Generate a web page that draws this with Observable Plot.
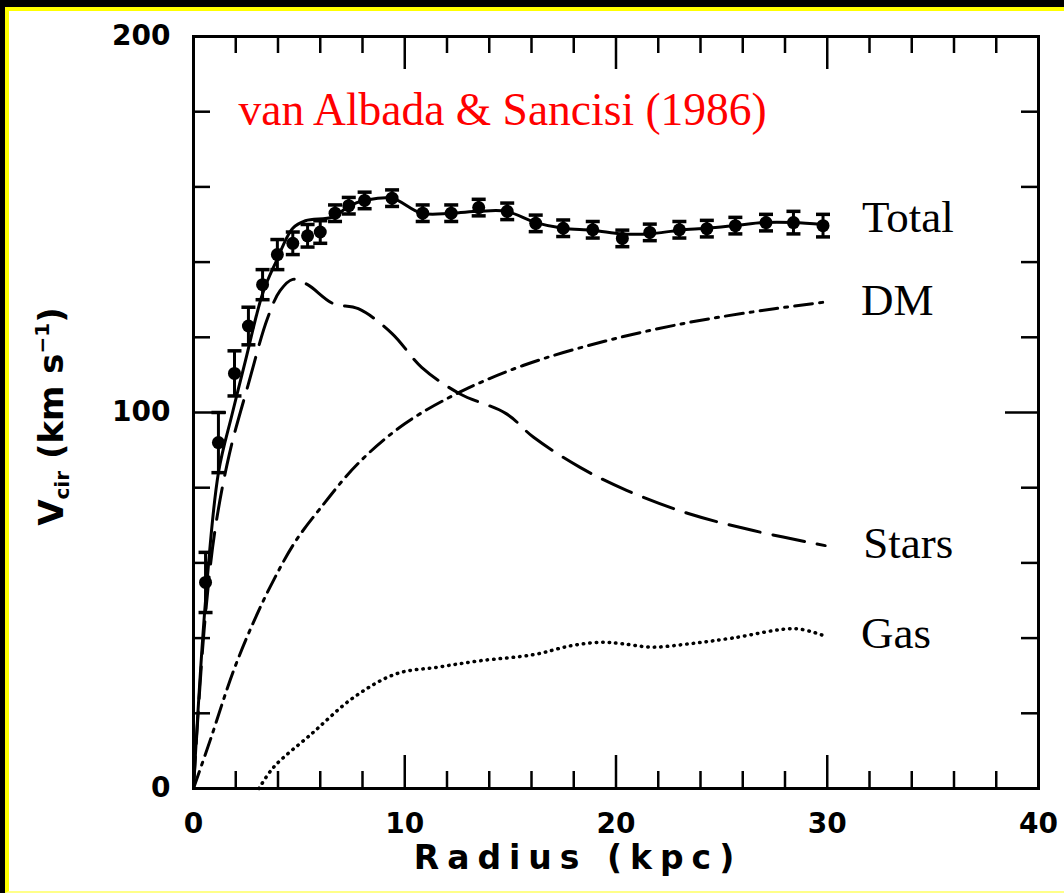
<!DOCTYPE html>
<html>
<head>
<meta charset="utf-8">
<script src="https://cdn.jsdelivr.net/npm/d3@7"></script>
<script src="https://cdn.jsdelivr.net/npm/@observablehq/plot@0.6"></script>
<style>
  html, body { margin: 0; padding: 0; background: #000; width: 1064px; height: 893px; overflow: hidden; }
  #frame { position: absolute; left: 5px; top: 7px; width: 1070px; height: 880px;
           background: #fff; border-left: 4px solid #ffff00; border-top: 4px solid #ffff00;
           border-bottom: 2px solid #ffff88; }
  #chart { position: absolute; left: 0; top: 0; }
</style>
</head>
<body>
<div id="frame"></div>
<div id="chart"></div>
<script>
// ---- observed rotation curve (points with error bars) ----
const obsR   = [0.57, 1.18, 1.94, 2.6, 3.27, 3.97, 4.7, 5.4, 6.0, 6.7, 7.35, 8.1, 9.4, 10.85, 12.2, 13.5, 14.85, 16.2, 17.5, 18.9, 20.3, 21.6, 23.0, 24.3, 25.65, 27.1, 28.4, 29.8];
const obsV   = [54.8, 92, 110.4, 123, 134, 142, 145, 147, 148, 153, 155, 156.4, 157, 153, 153, 154.5, 153.5, 150.3, 149, 148.6, 146.3, 147.9, 148.6, 148.9, 149.7, 150.5, 150.5, 149.7];
const obsErr = [8, 8, 6, 5, 4, 4, 3, 3, 3, 2.2, 2.2, 2.2, 2.2, 2.2, 2.2, 2.2, 2.2, 2.2, 2.2, 2.2, 2.2, 2.2, 2.2, 2.2, 2.2, 2.2, 3, 3];

// ---- model components ----
const totalR = [0, 0.57, 1.18, 1.83, 2.46, 3.27, 3.9, 4.7, 5.3, 6.6, 7.4, 8.2, 9.4, 10.8, 12.2, 13.5, 14.8, 16.2, 17.5, 18.9, 20.3, 21.6, 23, 24.3, 25.6, 27, 28.4, 29.8];
const totalV = [0, 50, 84, 99.6, 113.8, 131.6, 140, 149, 151, 152, 155, 156.5, 157, 153, 153, 153.5, 153.5, 150.5, 149, 148.5, 147.5, 147.5, 148.5, 149, 149.7, 150.5, 150.5, 150];

const starsR = [0, 0.5, 1.0, 1.7, 2.6, 3.5, 4.1, 4.7, 5.4, 6.6, 7.8, 9.4, 10.8, 12.6, 14.8, 16.1, 18.3, 20.5, 23.5, 26.5, 29.9];
const starsV = [0, 42, 68, 89, 107.6, 125, 132.4, 135.4, 134, 129, 127.6, 121, 112, 105, 99.7, 93.4, 85.4, 79.3, 73, 68.6, 64.6];

const dmR = [0, 0.8, 1.9, 2.9, 3.8, 4.8, 6.0, 7.8, 10.0, 12.6, 15.6, 19.5, 23.5, 27.5, 29.8];
const dmV = [0, 13, 31.4, 45, 55.5, 65.5, 74.5, 86.5, 97, 105.4, 112.5, 119, 124, 127.6, 129.3];

const gasR = [3.1, 3.8, 5.6, 7.6, 9.6, 11.6, 13.6, 16.1, 17.9, 19.3, 20.3, 21.7, 23.5, 25.5, 28.5, 29.8];
const gasV = [0, 5.7, 14.6, 24.3, 30.5, 32.3, 34, 35.6, 38, 38.9, 38.5, 37.6, 38.5, 40, 42.5, 40.7];

// ---- labels & ticks ----
const seriesNames = ["Total", "DM", "Stars", "Gas"];
const titleText = "van Albada & Sancisi (1986)";
const xTitle = "Radius (kpc)";
const yTitle = "Vcir (km s-1)";
const xTickLabels = [0, 10, 20, 30, 40];
const yTickLabels = [0, 100, 200];
const xMinor = [2, 4, 6, 8, 12, 14, 16, 18, 22, 24, 26, 28, 32, 34, 36, 38];
const xMajor = [10, 20, 30];
const yMinor = [20, 40, 60, 80, 120, 140, 160, 180];
const yMajor = [100];

// ---- tables built from arrays ----
const obs = obsR.map((r, i) => ({r, v: obsV[i], e: obsErr[i]}));
const toRows = (R, V) => R.map((r, i) => ({r, v: V[i]}));
const total = toRows(totalR, totalV);
const stars = toRows(starsR, starsV);
const dm = toRows(dmR, dmV);
const gas = toRows(gasR, gasV);
const ends = [total, dm, stars, gas].map((s, i) => ({name: seriesNames[i], r: s[s.length - 1].r, v: s[s.length - 1].v}));

const W = 1064, H = 893, mL = 193, mR = 26, mT = 36, mB = 105;
const pw = W - mL - mR, ph = H - mT - mB;
const minorLen = 17, majorLen = 33;

const capSymbol = {
  draw(ctx, size) {
    const w = Math.sqrt(size / Math.PI);
    ctx.moveTo(-w, 0); ctx.lineTo(w, 0);
  }
};

const sans = "DejaVu Sans, Liberation Sans, sans-serif";
const serif = "Liberation Serif, Times New Roman, serif";
const labelStyle = {textAnchor: "start", lineAnchor: "middle", fontFamily: serif, fontSize: 45, fontWeight: "normal", fill: "black"};

const chart = Plot.plot({
  width: W, height: H,
  marginLeft: mL, marginRight: mR, marginTop: mT, marginBottom: mB,
  x: {domain: [0, 40], axis: null},
  y: {domain: [0, 200], axis: null},
  style: {background: "transparent", color: "black", fontFamily: sans, fontSize: "28px", fontWeight: "bold", overflow: "visible"},
  marks: [
    // inward ticks on all four sides
    Plot.tickX(xMinor, {x: d => d, insetTop: ph - minorLen, strokeWidth: 2.5}),
    Plot.tickX(xMajor, {x: d => d, insetTop: ph - majorLen, strokeWidth: 2.5}),
    Plot.tickX(xMinor, {x: d => d, insetBottom: ph - minorLen, strokeWidth: 2.5}),
    Plot.tickX(xMajor, {x: d => d, insetBottom: ph - majorLen, strokeWidth: 2.5}),
    Plot.tickY(yMinor, {y: d => d, insetRight: pw - minorLen, strokeWidth: 2.5}),
    Plot.tickY(yMajor, {y: d => d, insetRight: pw - majorLen, strokeWidth: 2.5}),
    Plot.tickY(yMinor, {y: d => d, insetLeft: pw - minorLen, strokeWidth: 2.5}),
    Plot.tickY(yMajor, {y: d => d, insetLeft: pw - majorLen, strokeWidth: 2.5}),
    Plot.frame({stroke: "black", strokeWidth: 3}),
    Plot.axisX({ticks: xTickLabels, tickSize: 0, tickPadding: 25, tickFormat: d => String(d), label: null,
                fontSize: 28, fontWeight: "bold", fontFamily: sans}),
    Plot.axisY({ticks: yTickLabels, tickSize: 0, tickPadding: 23, tickFormat: d => String(d), label: null,
                fontSize: 28, fontWeight: "bold", fontFamily: sans}),
    // model curves
    Plot.line(gas, {x: "r", y: "v", curve: "catmull-rom", stroke: "black", strokeWidth: 3.5,
                    strokeDasharray: "0.5,6", strokeLinecap: "round"}),
    Plot.line(dm, {x: "r", y: "v", curve: "catmull-rom", stroke: "black", strokeWidth: 3,
                   strokeDasharray: "18,7,3,7"}),
    Plot.line(stars, {x: "r", y: "v", curve: "catmull-rom", stroke: "black", strokeWidth: 3,
                      strokeDasharray: "32,13"}),
    Plot.line(total, {x: "r", y: "v", curve: "catmull-rom", stroke: "black", strokeWidth: 3}),
    // observed points with error bars
    Plot.ruleX(obs, {x: "r", y1: d => d.v - d.e, y2: d => d.v + d.e, stroke: "black", strokeWidth: 3}),
    Plot.dot(obs, {x: "r", y: d => d.v + d.e, symbol: capSymbol, r: 7, fill: "none", stroke: "black", strokeWidth: 3.5}),
    Plot.dot(obs, {x: "r", y: d => d.v - d.e, symbol: capSymbol, r: 7, fill: "none", stroke: "black", strokeWidth: 3.5}),
    Plot.dot(obs, {x: "r", y: "v", r: 6.5, fill: "black", stroke: "none"}),
    // series labels at curve ends
    Plot.text(ends.slice(0, 1), {x: "r", y: "v", text: "name", dx: 39, dy: -7, ...labelStyle}),
    Plot.text(ends.slice(1), {x: "r", y: "v", text: "name", dx: 38, dy: -2, ...labelStyle}),
    // title
    Plot.text([titleText], {frameAnchor: "top-left", dx: 45, dy: 74, textAnchor: "start", lineAnchor: "middle",
                            fontFamily: serif, fontSize: 45.5, fontWeight: "normal", fill: "#ff0000"}),
    // axis titles
    Plot.text([xTitle], {frameAnchor: "bottom", dx: -38, dy: 70, lineAnchor: "middle", textAnchor: "middle",
                         fontFamily: sans, fontSize: 33, fontWeight: "bold", fill: "black"}),
    Plot.text([yTitle], {frameAnchor: "left", dx: -141, dy: 4, rotate: -90, lineAnchor: "middle", textAnchor: "middle",
                         fontFamily: sans, fontSize: 34, fontWeight: "bold", fill: "black"})
  ]
});

document.getElementById("chart").appendChild(chart);

// letter spacing for x title and rich text (subscript/superscript) for y title
d3.select(chart).selectAll("text").each(function () {
  const t = d3.select(this);
  if (this.textContent === xTitle) {
    t.style("letter-spacing", "8px");
  } else if (this.textContent === yTitle) {
    t.text(null);
    t.append("tspan").text("V");
    t.append("tspan").attr("font-size", 20).attr("dy", 6).text("cir");
    t.append("tspan").attr("font-size", 34).attr("dy", -6).text(" (km s");
    t.append("tspan").attr("font-size", 20).attr("dy", -14).text("\u22121");
    t.append("tspan").attr("font-size", 34).attr("dy", 14).text(")");
  }
});
</script>
</body>
</html>
